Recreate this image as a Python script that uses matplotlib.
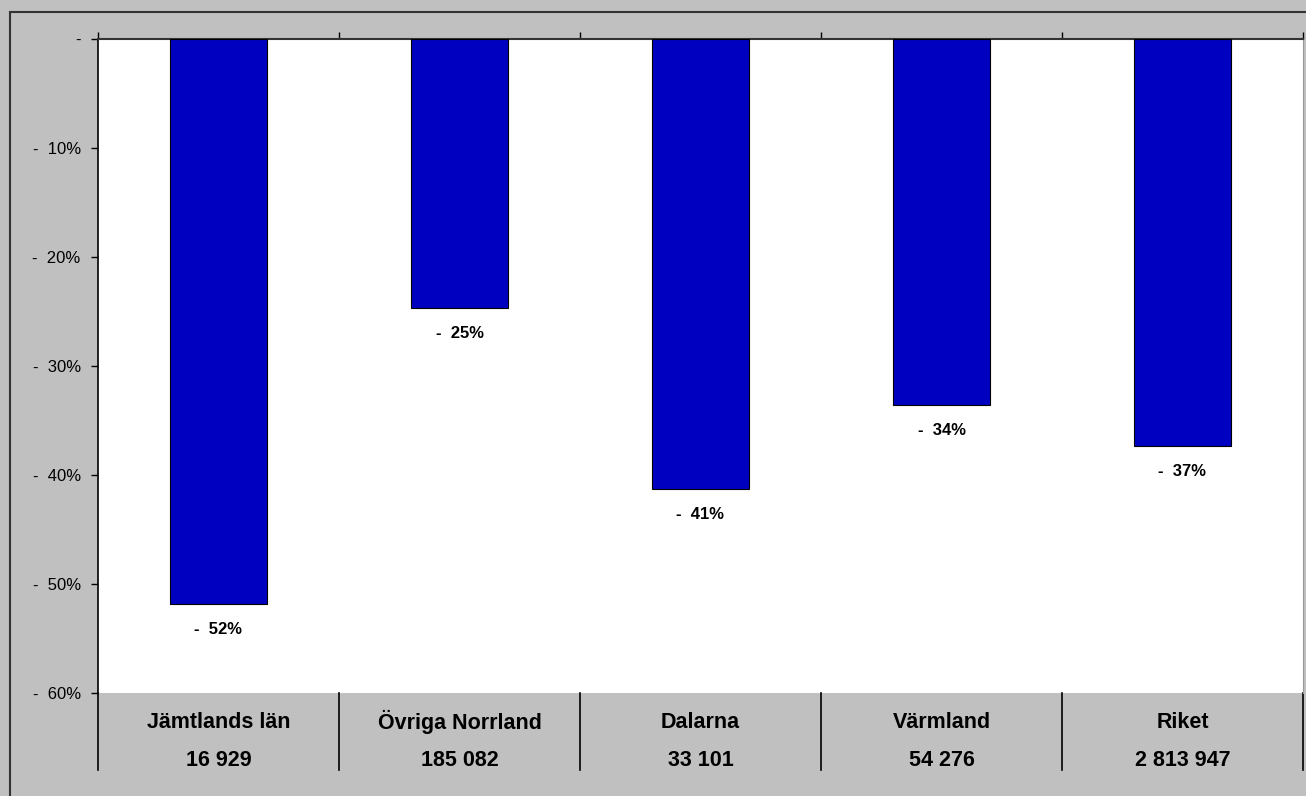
import matplotlib.pyplot as plt
from matplotlib.patches import Rectangle
from matplotlib.lines import Line2D
import numpy as np

plt.rcParams['font.family'] = ['Liberation Sans', 'DejaVu Sans']

regions = ['Jämtlands län', 'Övriga Norrland', 'Dalarna', 'Värmland', 'Riket']
counts = ['16 929', '185 082', '33 101', '54 276', '2 813 947']
change = [-51.8, -24.7, -41.3, -33.6, -37.3]
yticks = [0, -10, -20, -30, -40, -50, -60]

W, H = 1306, 796
grey = '#c0c0c0'
fig = plt.figure(figsize=(W / 100, H / 100), dpi=100, facecolor=grey)

# outer frame (runs off the right and bottom edge like the source)
fig.patches.append(Rectangle((10 / W, -0.1), 1.2, 1 - 12 / H + 0.1, transform=fig.transFigure,
                             fill=False, edgecolor='#333333', lw=1.5))

ax = fig.add_axes([98 / W, 1 - 693 / H, (1303 - 98) / W, (693 - 39) / H])
ax.set_facecolor('white')

x = np.arange(len(regions))
ax.bar(x, change, width=0.4, color='#0000c0', edgecolor='black', lw=0.8, zorder=3)
ax.set_xlim(-0.5, len(regions) - 0.5)
ax.set_ylim(-60, 0)

for xi, v in zip(x, change):
    ax.annotate('-  %d%%' % round(abs(v)), (xi, v), xytext=(0, -13), textcoords='offset points',
                ha='center', va='top', fontsize=12, fontweight='bold')

ax.set_yticks(yticks)
ax.set_yticklabels(['-'] + ['-  %d%%' % abs(t) for t in yticks[1:]], fontsize=12)
ax.tick_params(axis='y', direction='out', length=5, width=1, pad=7.5)

ax.xaxis.tick_top()
ax.set_xticks(np.arange(len(regions) + 1) - 0.5)
ax.set_xticklabels([])
ax.tick_params(axis='x', direction='out', length=5, width=1, top=True, bottom=False)

ax.spines['bottom'].set_visible(False)
ax.spines['top'].set_color('#333333')
ax.spines['top'].set_linewidth(1.5)
ax.spines['left'].set_linewidth(1.2)
ax.spines['right'].set_color('#999999')

# category table under the plot
trans = ax.get_xaxis_transform()
for b in np.arange(len(regions) + 1) - 0.5:
    ax.add_line(Line2D([b, b], [0, -77 / 654], transform=trans, color='black', lw=1.2, clip_on=False))
for xi, name, cnt in zip(x, regions, counts):
    ax.text(xi, -29 / 654, name, transform=trans, ha='center', va='center',
            fontsize=15.5, fontweight='bold')
    ax.text(xi, -67 / 654, cnt, transform=trans, ha='center', va='center',
            fontsize=15.5, fontweight='bold')

fig.savefig('out.png', dpi=100, facecolor=grey)
